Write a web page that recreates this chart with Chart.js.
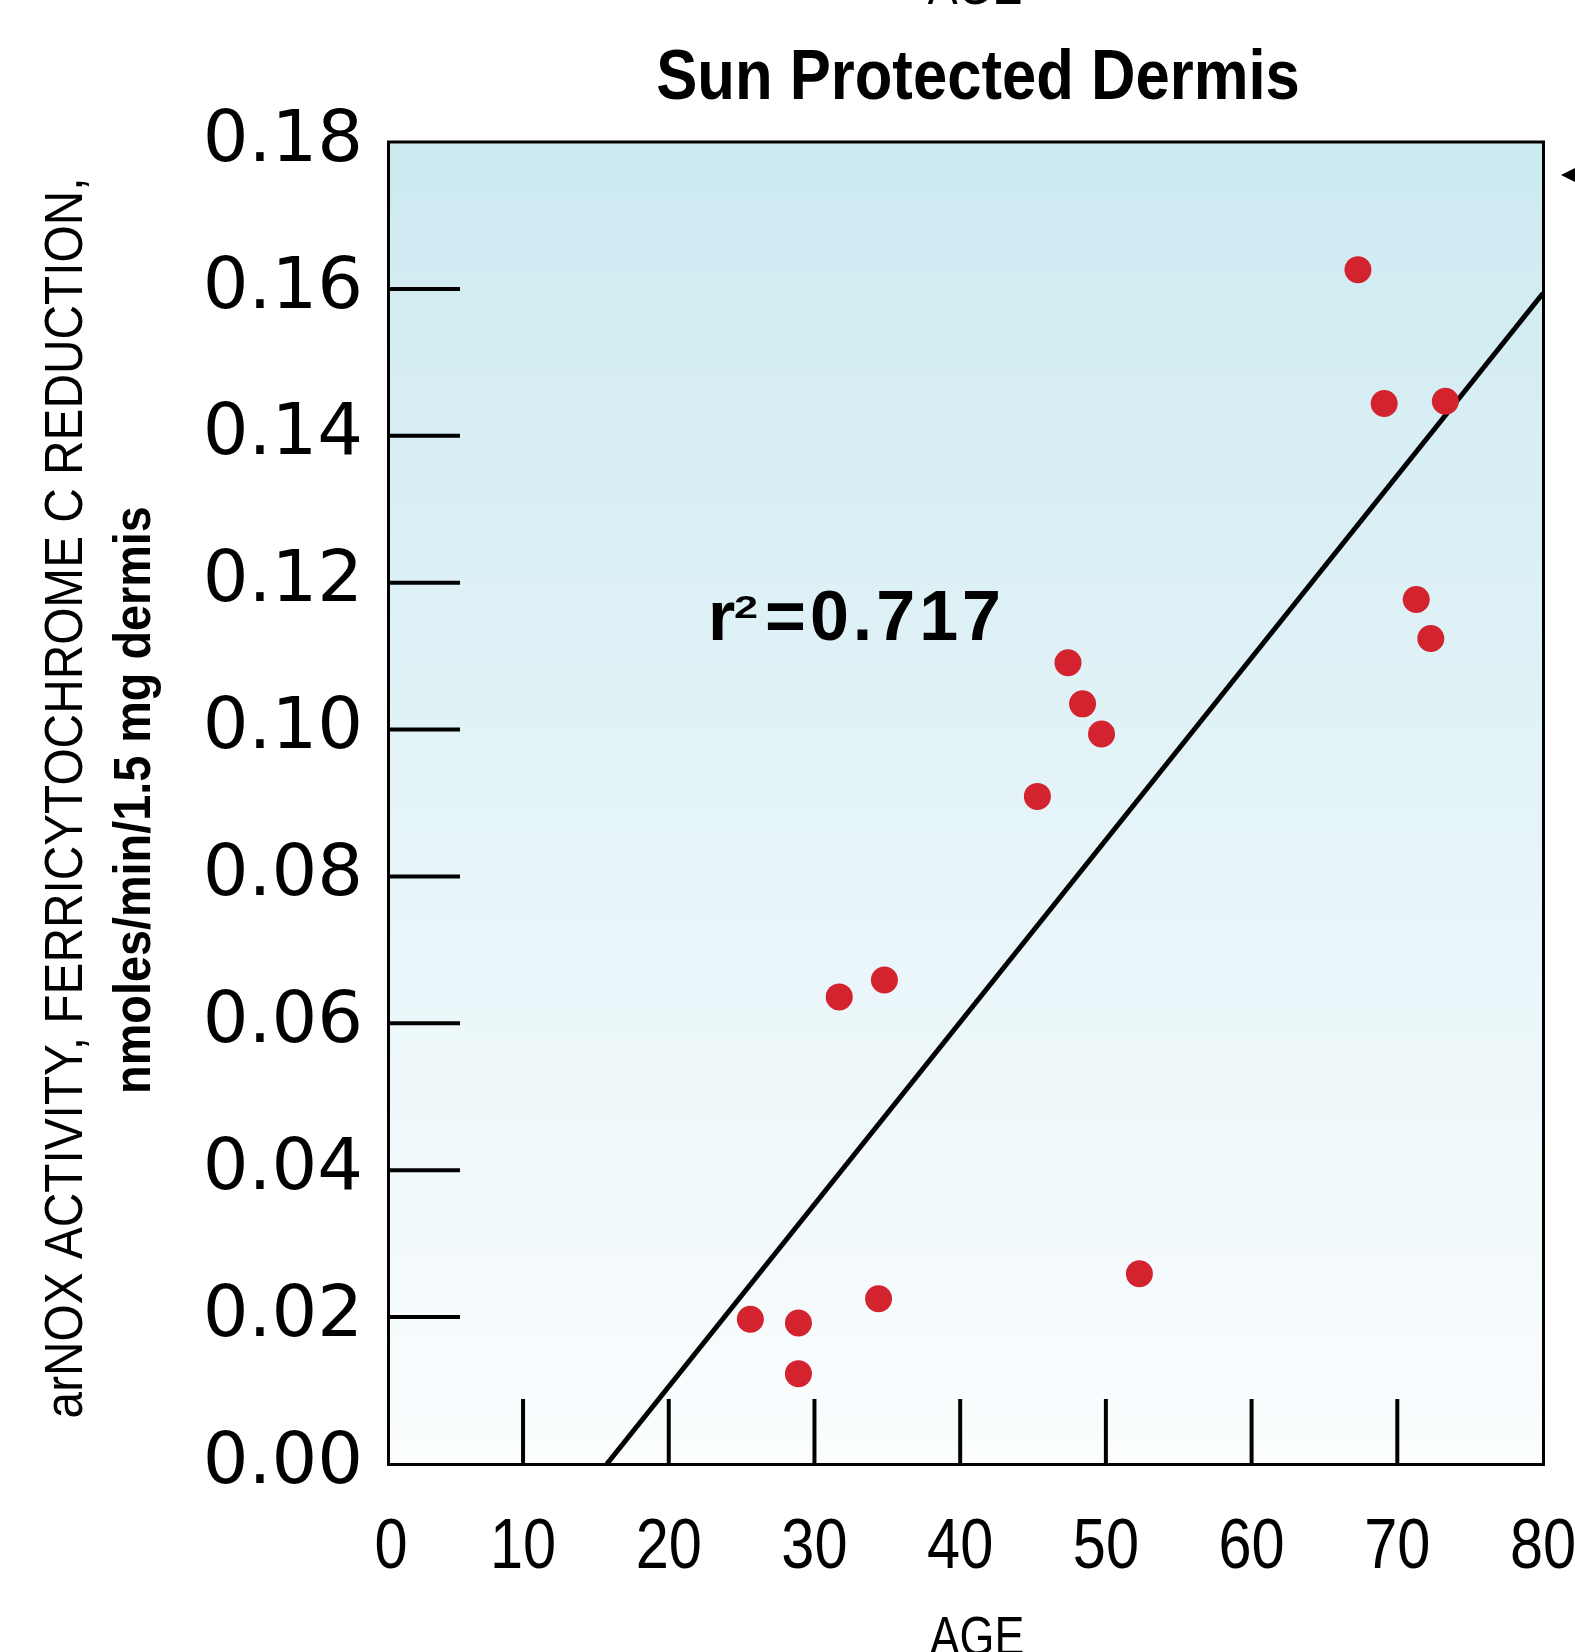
<!DOCTYPE html>
<html lang="en">
<head>
  <meta charset="UTF-8" />
  <title>Sun Protected Dermis</title>
  <script src="https://cdn.jsdelivr.net/npm/chart.js"></script>
  <style>
    html, body { margin: 0; padding: 0; background: #fff; }
    #wrap { width: 1575px; height: 1652px; }
  </style>
</head>
<body>
<div id="wrap">
  <canvas id="chart" width="1575" height="1652"></canvas>
</div>
<script type="text/javascript">
  // Data
  const ages     = [67.3, 69.1, 73.3, 71.3, 72.3, 47.4, 48.4, 49.7, 45.3, 31.7, 34.8, 52.3, 34.4, 25.6, 28.9, 28.9];
  const activity = [0.1626, 0.1444, 0.1447, 0.1177, 0.1124, 0.1091, 0.1035, 0.0994, 0.0909, 0.0636, 0.0659, 0.0259, 0.0225, 0.0197, 0.0192, 0.0123];
  // regression line end points
  const fitX = [15.75, 80];
  const fitY = [0, 0.1594];
  const xTicks = [0, 10, 20, 30, 40, 50, 60, 70, 80];
  const yTicks = [0, 0.02, 0.04, 0.06, 0.08, 0.10, 0.12, 0.14, 0.16, 0.18];
  const rSquared = "0.717";

  const sans = '"Liberation Sans", Arial, sans-serif';

  // no condensed face installed, so squeeze the text horizontally
  function squeezed(ctx, text, x, y, font, sx, rot) {
    ctx.save();
    ctx.translate(x, y);
    if (rot) ctx.rotate(rot);
    ctx.scale(sx, 1);
    ctx.font = font;
    ctx.textAlign = 'center';
    ctx.textBaseline = 'alphabetic';
    ctx.fillText(text, 0, 0);
    ctx.restore();
  }

  // background gradient, frame, inner ticks and texts
  const decor = {
    id: 'decor',
    beforeDatasetsDraw(chart) {
      const {ctx, chartArea: a} = chart;
      ctx.save();
      const g = ctx.createLinearGradient(0, a.top, 0, a.bottom);
      g.addColorStop(0, '#cdeaf1');
      g.addColorStop(1, '#fbfdfe');
      ctx.fillStyle = g;
      ctx.fillRect(a.left, a.top, a.right - a.left, a.bottom - a.top);
      ctx.restore();
    },
    afterDatasetsDraw(chart) {
      const {ctx, chartArea: a, scales} = chart;
      ctx.save();
      ctx.strokeStyle = '#000';
      ctx.lineWidth = 3;
      ctx.strokeRect(a.left - 0.5, a.top, a.right - a.left + 1, a.bottom - a.top + 0.5);

      // inward tick marks
      ctx.lineWidth = 4;
      yTicks.slice(1, -1).forEach(v => {
        const y = scales.y.getPixelForValue(v);
        ctx.beginPath();
        ctx.moveTo(a.left, y);
        ctx.lineTo(a.left + 71, y);
        ctx.stroke();
      });
      xTicks.slice(1, -1).forEach(v => {
        const x = scales.x.getPixelForValue(v);
        ctx.beginPath();
        ctx.moveTo(x, a.bottom);
        ctx.lineTo(x, a.bottom - 65);
        ctx.stroke();
      });

      ctx.fillStyle = '#000';
      // x tick labels (condensed)
      xTicks.forEach(v => {
        const x = Math.max(scales.x.getPixelForValue(v), a.left + 2);
        squeezed(ctx, String(v), x, 1568, '70px ' + sans, 0.85);
      });

      // title
      squeezed(ctx, 'Sun Protected Dermis', 978, 99, 'bold 70px ' + sans, 0.88);

      // axis title of panel above (cut off) and this one
      squeezed(ctx, 'AGE', 975, 4, '56px ' + sans, 0.8);
      squeezed(ctx, 'AGE', 977, 1655, '56px ' + sans, 0.8);

      // y axis title, two lines
      squeezed(ctx, 'arNOX ACTIVITY, FERRICYTOCHROME C REDUCTION,', 82, 798, '54px ' + sans, 0.885, -Math.PI / 2);
      squeezed(ctx, 'nmoles/min/1.5 mg dermis', 150, 800, 'bold 52px ' + sans, 0.9, -Math.PI / 2);

      // r squared label
      ctx.textAlign = 'left';
      ctx.textBaseline = 'alphabetic';
      ctx.font = 'bold 70px ' + sans;
      ctx.fillText('r', 708, 640);
      squeezed(ctx, '2', 746, 618, 'bold 32px ' + sans, 1.35);
      ctx.textAlign = 'left';
      ctx.font = 'bold 70px ' + sans;
      ctx.letterSpacing = '4px';
      ctx.fillText('=' + rSquared, 765, 640);
      ctx.letterSpacing = '0px';

      // arrow head from the neighbouring panel
      ctx.beginPath();
      ctx.moveTo(1561, 175);
      ctx.lineTo(1580, 165.5);
      ctx.lineTo(1580, 184.5);
      ctx.closePath();
      ctx.fill();
      ctx.restore();
    }
  };

  new Chart(document.getElementById('chart'), {
    data: {
      datasets: [{
        type: 'scatter',
        data: ages.map((a, i) => ({x: a, y: activity[i]})),
        backgroundColor: '#d3232e',
        borderWidth: 0,
        pointRadius: 13.5,
        order: 0
      }, {
        type: 'line',
        data: fitX.map((x, i) => ({x: x, y: fitY[i]})),
        borderColor: '#000',
        borderWidth: 5,
        pointRadius: 0,
        fill: false,
        order: 1
      }]
    },
    options: {
      responsive: false,
      devicePixelRatio: 1,
      animation: false,
      layout: { padding: { top: 142, right: 32, left: 0, bottom: 0 } },
      plugins: { legend: { display: false }, tooltip: { enabled: false } },
      scales: {
        x: {
          type: 'linear',
          min: 0.8,
          max: 80,
          grid: { display: false, drawTicks: false },
          border: { display: false },
          afterBuildTicks: s => { s.ticks = xTicks.map(v => ({value: v})); },
          afterFit: s => { s.height = 188; s.paddingLeft = 0; s.paddingRight = 0; },
          ticks: { display: false }
        },
        y: {
          type: 'linear',
          min: 0,
          max: 0.18,
          grid: { display: false, drawTicks: false },
          border: { display: false },
          afterBuildTicks: s => { s.ticks = yTicks.map(v => ({value: v})); },
          afterFit: s => { s.width = 389; },
          ticks: {
            autoSkip: false,
            padding: 26,
            color: '#000',
            font: { family: '"DejaVu Sans", sans-serif', size: 72 },
            callback: v => v.toFixed(2)
          }
        }
      }
    },
    plugins: [decor]
  });
</script>
</body>
</html>
